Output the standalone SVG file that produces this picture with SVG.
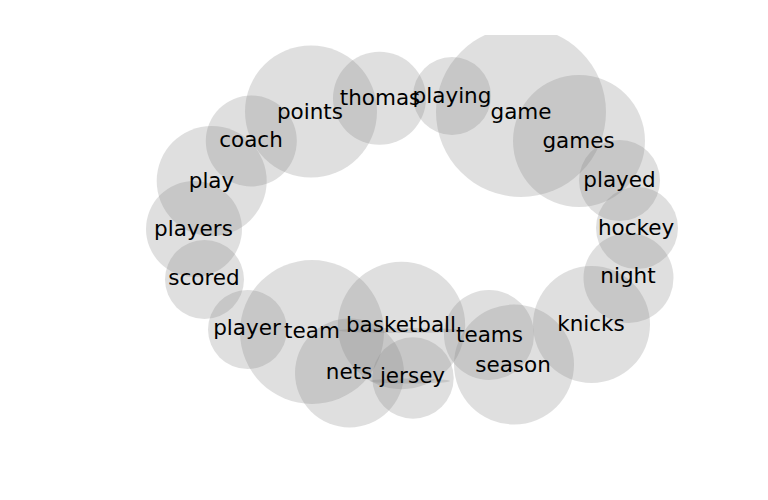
<svg xmlns="http://www.w3.org/2000/svg" width="768" height="500" viewBox="0 0 768 500">
<style>
.b{fill:#808080;fill-opacity:0.25}
.t{font-family:"DejaVu Sans",sans-serif;font-size:21.5px;fill:#000;text-anchor:middle}
</style>
<defs><clipPath id="ax"><rect x="0" y="35" width="768" height="430"/></clipPath></defs>
<rect width="768" height="500" fill="#fff"/>
<g id="bubbles" clip-path="url(#ax)">
<g id="points"><circle class="b" cx="311" cy="111.5" r="66"/></g>
<g id="thomas"><circle class="b" cx="379.5" cy="98.3" r="46.5"/></g>
<g id="playing"><circle class="b" cx="452" cy="96" r="39"/></g>
<g id="game"><circle class="b" cx="521" cy="112" r="85"/></g>
<g id="games"><circle class="b" cx="579" cy="141" r="66"/></g>
<g id="played"><circle class="b" cx="619.5" cy="180.5" r="40.5"/></g>
<g id="hockey"><circle class="b" cx="637" cy="228" r="41"/></g>
<g id="night"><circle class="b" cx="628.5" cy="278" r="45"/></g>
<g id="knicks"><circle class="b" cx="591.5" cy="324.5" r="58.5"/></g>
<g id="teams"><circle class="b" cx="489" cy="335" r="45"/></g>
<g id="season"><circle class="b" cx="514" cy="364.5" r="60"/></g>
<g id="jersey"><circle class="b" cx="413" cy="378" r="40.7"/></g>
<g id="basketball"><circle class="b" cx="401.5" cy="325.5" r="63.7"/></g>
<g id="nets"><circle class="b" cx="349.5" cy="373" r="54.5"/></g>
<g id="team"><circle class="b" cx="312" cy="332" r="72"/></g>
<g id="player"><circle class="b" cx="247.5" cy="329.5" r="39.5"/></g>
<g id="scored"><circle class="b" cx="204.5" cy="279.5" r="39.5"/></g>
<g id="players"><circle class="b" cx="194" cy="229" r="48"/></g>
<g id="play"><circle class="b" cx="211.7" cy="181" r="55"/></g>
<g id="coach"><circle class="b" cx="251.3" cy="141" r="45.5"/></g>
<ellipse class="b" cx="401" cy="330.5" rx="62" ry="2.5"/>
<ellipse class="b" cx="410" cy="381" rx="40" ry="2.5"/>
</g>
<g id="labels">
<text class="t" x="310" y="119">points</text>
<text class="t" x="380" y="104.5">thomas</text>
<text class="t" x="452" y="103">playing</text>
<text class="t" x="521" y="119">game</text>
<text class="t" x="578.5" y="147.7">games</text>
<text class="t" x="619.5" y="186.7">played</text>
<text class="t" x="636" y="235">hockey</text>
<text class="t" x="628" y="283">night</text>
<text class="t" x="591" y="330.7">knicks</text>
<text class="t" x="489.5" y="341.7">teams</text>
<text class="t" x="513" y="371.7">season</text>
<text class="t" x="412.5" y="383">jersey</text>
<text class="t" x="401" y="331.7">basketball</text>
<text class="t" x="349" y="379">nets</text>
<text class="t" x="312" y="338">team</text>
<text class="t" x="247" y="335">player</text>
<text class="t" x="204" y="285">scored</text>
<text class="t" x="193.5" y="236">players</text>
<text class="t" x="211.5" y="188">play</text>
<text class="t" x="251" y="146.7">coach</text>
</g>
</svg>
